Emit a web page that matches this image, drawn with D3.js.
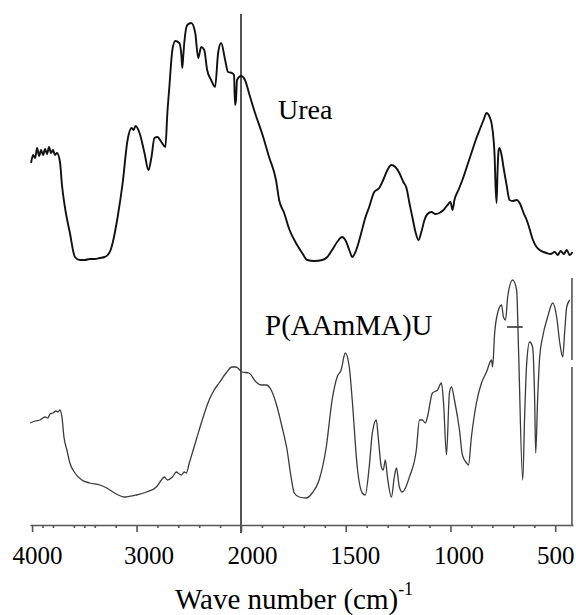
<!DOCTYPE html>
<html><head><meta charset="utf-8">
<script src="https://cdn.jsdelivr.net/npm/d3@7"></script>
<style>body{margin:0;background:#fff}svg{display:block}</style>
</head><body>
<script>
// ---- data (wavenumber cm^-1, transmittance-like arbitrary %) ----
const ureaWn = [4010,3990,3971,3952,3933,3914,3895,3876,3857,3838,3819,3800,3781,3762,3733,3714,3686,3638,3590,3543,3495,3448,3400,3352,3305,3276,3248,3229,3181,3133,3086,3048,3029,3010,2971,2924,2886,2857,2829,2800,2762,2724,2705,2686,2657,2629,2590,2571,2562,2552,2543,2514,2476,2438,2410,2381,2352,2324,2286,2248,2219,2190,2152,2124,2086,2067,2057,2048,2038,2000,1981,1962,1933,1900,1866,1833,1818,1794,1770,1732,1708,1684,1651,1612,1588,1565,1541,1517,1502,1483,1469,1450,1426,1407,1388,1364,1340,1321,1301,1282,1263,1244,1225,1210,1196,1182,1167,1153,1139,1124,1110,1091,1072,1053,1033,1014,1000,990,981,962,943,919,900,881,861,842,828,813,804,794,789,785,780,775,770,766,756,747,732,718,703,684,665,651,636,622,608,589,574,555,541,522,502,488,474,459,445,431,417];
const ureaT = [72.6,74.2,73.6,75.6,74.0,75.2,74.2,75.4,74.4,75.8,74.6,75.2,74.2,74.6,72.8,68.2,63.8,58.6,53.8,53.2,53.2,53.4,53.4,53.6,53.8,54.2,55.2,56.6,61.8,68.6,77.2,79.6,79.2,80.0,78.6,74.6,71.2,73.8,77.6,77.8,76.8,75.8,82.6,87.8,95.2,97.0,96.6,94.2,91.6,94.2,96.6,100.2,100.6,98.6,93.6,95.8,95.2,91.2,89.2,87.8,94.6,96.6,93.2,90.8,90.6,90.2,84.2,85.2,89.2,90.0,89.2,86.6,82.6,78.6,73.8,69.2,65.2,62.6,59.4,56.2,54.6,53.2,53.0,53.2,53.8,55.2,56.8,57.8,57.2,55.2,53.8,55.2,58.6,61.6,63.8,66.8,67.6,69.2,71.2,72.2,71.8,70.6,68.8,67.6,64.6,61.8,58.8,57.2,58.8,61.2,62.4,62.8,62.4,62.6,63.2,64.2,64.8,63.2,65.2,67.2,69.2,72.2,74.6,77.0,79.2,81.2,82.6,81.8,80.6,77.2,73.8,68.2,64.6,71.2,75.2,75.6,74.2,71.8,68.2,65.2,65.0,65.2,64.2,62.6,61.2,59.4,57.4,55.8,55.2,54.8,54.6,54.4,54.8,54.2,55.0,54.4,55.2,54.2,54.8];
const polyWn = [4019,3971,3924,3876,3848,3829,3800,3771,3752,3733,3714,3695,3667,3638,3590,3524,3448,3352,3286,3210,3114,3000,2905,2810,2762,2733,2705,2657,2619,2590,2571,2543,2524,2495,2429,2371,2305,2257,2210,2143,2086,2048,1995,1962,1928,1904,1880,1856,1833,1804,1780,1761,1746,1722,1689,1660,1627,1593,1565,1541,1522,1502,1483,1469,1445,1421,1407,1388,1373,1354,1345,1330,1321,1311,1301,1282,1268,1258,1244,1230,1220,1196,1163,1148,1134,1120,1110,1086,1062,1043,1033,1019,1005,995,981,957,943,923,914,900,876,852,828,804,799,789,775,756,747,737,727,703,684,675,655,646,636,622,608,598,593,584,574,560,536,512,493,478,464,455,445,431];
const polyT = [20.6,21.0,21.2,21.8,21.6,22.4,22.6,23.0,22.8,23.2,21.8,17.8,15.2,12.6,10.6,9.2,8.6,8.2,7.6,6.6,5.8,6.2,6.8,7.8,9.2,9.8,9.2,9.8,10.8,10.4,10.2,10.8,10.6,12.6,17.2,21.2,25.2,27.2,28.6,30.6,31.8,31.8,30.8,30.6,28.8,28.2,28.2,27.2,24.6,19.8,15.2,9.8,6.6,5.8,5.6,6.6,9.2,15.8,25.2,29.8,31.2,34.6,31.8,25.2,11.8,6.6,6.2,11.8,18.6,21.2,17.8,11.8,11.2,13.2,9.8,5.8,9.8,11.6,7.8,6.8,7.2,9.8,15.2,21.2,21.2,20.6,21.8,26.6,27.2,28.6,24.6,14.2,26.6,27.8,25.2,19.2,14.2,12.6,12.2,17.8,24.6,28.6,30.8,33.2,31.8,38.6,42.6,44.2,41.8,41.2,45.8,49.2,47.2,35.2,9.2,21.8,32.6,36.8,35.8,25.2,14.6,25.2,33.8,37.8,41.8,44.6,41.8,36.6,33.8,38.6,43.8,45.2];
const seriesNames = ["Urea", "P(AAmMA)U"];
const majorTicks = [4000, 3000, 2000, 1500, 1000, 500];
const tickLabels = ["4000", "3000", "2000", "1500", "1000", "500"];
const minorTicks = [3900,3800,3600,3500,3400,3200,2800,2600,2400,2200,1900,1800,1700,1600,1400,1300,1200,1100,900,800,700,600];
const axisTitle = "Wave number (cm)";
const axisTitleSup = "-1";
const markerWn = 2000;   // vertical reference line
const frameWn = 420;     // right frame edge of lower trace

// ---- layout ----
const W = 576, H = 615;
const serif = "'Liberation Serif','Times New Roman',serif";
const svg = d3.select("body").append("svg").attr("width", W).attr("height", H)
  .style("background", "#fff");

// split (piecewise) wavenumber axis: 4000-2000 compressed, 2000-415 expanded
const x = d3.scaleLinear().domain([4020, 2000, 415]).range([30, 241, 573]);
const y = d3.scaleLinear().domain([0, 100]).range([526, 26]);
const axisY = 525;

const line = d3.line().x(d => x(d[0])).y(d => y(d[1])).curve(d3.curveMonotoneX);

// vertical marker line at 2000
svg.append("line")
  .attr("x1", x(markerWn)).attr("x2", x(markerWn))
  .attr("y1", y(102.4)).attr("y2", axisY + 8)
  .attr("stroke", "#2a2a2a").attr("stroke-width", 1.6);

// right frame segment of lower trace (with small gap)
svg.append("line").attr("x1", x(frameWn)).attr("x2", x(frameWn))
  .attr("y1", y(49.6)).attr("y2", y(33.2))
  .attr("stroke", "#555").attr("stroke-width", 1.6);
svg.append("line").attr("x1", x(frameWn)).attr("x2", x(frameWn))
  .attr("y1", y(31.8)).attr("y2", axisY)
  .attr("stroke", "#555").attr("stroke-width", 1.6);

// curves
svg.append("path").datum(d3.zip(ureaWn, ureaT)).attr("d", line)
  .attr("fill", "none").attr("stroke", "#111").attr("stroke-width", 1.9)
  .attr("stroke-linejoin", "round");
svg.append("path").datum(d3.zip(polyWn, polyT)).attr("d", line)
  .attr("fill", "none").attr("stroke", "#3a3a3a").attr("stroke-width", 1.3)
  .attr("stroke-linejoin", "round");

// small dash artefact near 700 cm-1 on lower trace
svg.append("line").attr("x1", x(730)).attr("x2", x(655))
  .attr("y1", y(39.8)).attr("y2", y(39.8))
  .attr("stroke", "#333").attr("stroke-width", 1.6);

// axis: minor ticks
const gMinor = svg.append("g").attr("transform", `translate(0,${axisY})`)
  .call(d3.axisBottom(x).tickValues(minorTicks).tickSize(3).tickFormat(""));
gMinor.select(".domain").remove();
gMinor.selectAll("line").attr("stroke", "#555").attr("stroke-width", 1.6);

// axis: major ticks + labels
const labelDx = [5, 12, 11, 9, 8, 0];
const gMajor = svg.append("g").attr("transform", `translate(0,${axisY})`)
  .call(d3.axisBottom(x).tickValues(majorTicks).tickSize(7).tickSizeOuter(0)
    .tickFormat((d, i) => tickLabels[i]));
gMajor.select(".domain").attr("stroke", "#555").attr("stroke-width", 1.6);
gMajor.selectAll(".tick line").attr("stroke", "#555").attr("stroke-width", 1.6);
gMajor.selectAll(".tick text")
  .attr("font-family", serif).attr("font-size", 25).attr("fill", "#000")
  .attr("y", 39).attr("dy", 0)
  .attr("dx", (d, i) => labelDx[i]);

// axis title
const t = svg.append("text").attr("x", 175).attr("y", 609)
  .attr("font-family", serif).attr("font-size", 29).attr("fill", "#000");
t.append("tspan").text(axisTitle);
t.append("tspan").attr("font-size", 18).attr("dy", -14).text(axisTitleSup);

// series labels
svg.append("text").attr("x", 278).attr("y", 119)
  .attr("font-family", serif).attr("font-size", 28).attr("fill", "#000")
  .text(seriesNames[0]);
svg.append("text").attr("x", 265).attr("y", 335)
  .attr("font-family", serif).attr("font-size", 29).attr("fill", "#000")
  .text(seriesNames[1]);
</script>
</body></html>
